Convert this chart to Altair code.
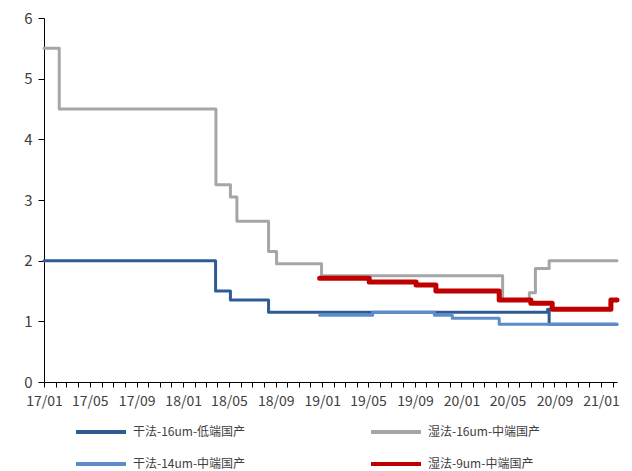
import altair as alt
import pandas as pd

# Step series: each date marks where a new price level starts
dry16_dates = ["2017-01-01", "2018-03-27", "2018-05-05", "2018-08-13", "2020-08-14", "2020-08-18", "2021-02-12"]
dry16_values = [2.0, 1.5, 1.35, 1.15, 1.2, 0.95, 0.95]

wet16_dates = ["2017-01-01", "2017-02-10", "2018-03-28", "2018-05-05", "2018-05-22", "2018-08-13",
               "2018-09-03", "2018-12-30", "2020-04-18", "2020-06-27", "2020-07-13", "2020-08-18", "2021-02-12"]
wet16_values = [5.5, 4.5, 3.25, 3.05, 2.65, 2.15, 1.95, 1.75, 1.35, 1.47, 1.87, 2.0, 2.0]

dry14_dates = ["2018-12-25", "2019-05-13", "2019-10-22", "2019-12-08", "2020-04-09", "2021-02-12"]
dry14_values = [1.10, 1.15, 1.10, 1.05, 0.95, 0.95]

wet9_dates = ["2018-12-25", "2019-05-04", "2019-09-04", "2019-10-26", "2020-04-09", "2020-07-01",
              "2020-08-26", "2021-01-27", "2021-02-12"]
wet9_values = [1.71, 1.65, 1.60, 1.50, 1.35, 1.30, 1.20, 1.35, 1.35]

series_names = ["干法-16um-低端国产", "湿法-16um-中端国产", "干法-14um-中端国产", "湿法-9um-中端国产"]
series_colors = ["#2F5B95", "#A6A6A6", "#5B8DCB", "#C00000"]
series_widths = [3, 3, 3, 5]

frames = []
for name, d, v in zip(series_names,
                      [dry16_dates, wet16_dates, dry14_dates, wet9_dates],
                      [dry16_values, wet16_values, dry14_values, wet9_values]):
    frames.append(pd.DataFrame({"date": d, "value": v, "series": name}))
df = pd.concat(frames, ignore_index=True)

month_ticks = []
for y in range(2017, 2022):
    for m in range(1, 13):
        if (y, m) <= (2021, 2):
            month_ticks.append(alt.DateTime(year=y, month=m, date=1, utc=True))

FONT = "Noto Sans CJK SC"

x_enc = alt.X(
    "date:T",
    scale=alt.Scale(type="utc", domain=[alt.DateTime(year=2017, month=1, date=1, utc=True),
                                        alt.DateTime(year=2021, month=2, date=12, utc=True)]),
    axis=alt.Axis(
        title=None, values=month_ticks, grid=False,
        labelExpr="utcmonth(datum.value) % 4 == 0 ? utcFormat(datum.value, '%y/%m') : ''",
        labelOverlap=False, labelFlush=False, labelFont=FONT, labelFontSize=14,
        labelColor="#404040", tickSize=5, tickColor="#000000", domainColor="#000000",
        labelPadding=7,
    ),
)
y_enc = alt.Y(
    "value:Q",
    scale=alt.Scale(domain=[0, 6], nice=False, zero=True),
    axis=alt.Axis(
        title=None, values=[0, 1, 2, 3, 4, 5, 6], grid=False, labelFont=FONT, labelFontSize=15,
        labelColor="#404040", tickSize=6, tickColor="#000000", domainColor="#000000",
        labelPadding=6,
    ),
)
# Wide flat line symbol drawn from a small nominal size so the legend rows stay compact
color_enc = alt.Color(
    "series:N",
    scale=alt.Scale(domain=series_names, range=series_colors),
    legend=alt.Legend(
        title=None, orient="none", legendX=50, legendY=407, direction="horizontal", columns=2,
        symbolType="M-5,0H5", symbolSize=100, symbolStrokeWidth=4, labelFont=FONT,
        labelFontSize=12, labelColor="#404040", columnPadding=117, rowPadding=16,
        labelOffset=25, labelLimit=300,
    ),
)

layers = []
for name, w in zip(series_names, series_widths):
    layers.append(
        alt.Chart(df)
        .transform_filter(alt.datum.series == name)
        .mark_line(interpolate="step-after", strokeWidth=w, strokeCap="round", strokeJoin="round")
        .encode(x=x_enc, y=y_enc, color=color_enc)
    )

chart = (
    alt.layer(*layers)
    .properties(
        width=573, height=364,
        autosize=alt.AutoSizeParams(type="none"),
        padding={"left": 44, "top": 18, "right": 15, "bottom": 89},
        background="white",
    )
    .configure_view(stroke=None)
)

chart.save("out.html", embed_options={"renderer": "svg", "actions": False})
